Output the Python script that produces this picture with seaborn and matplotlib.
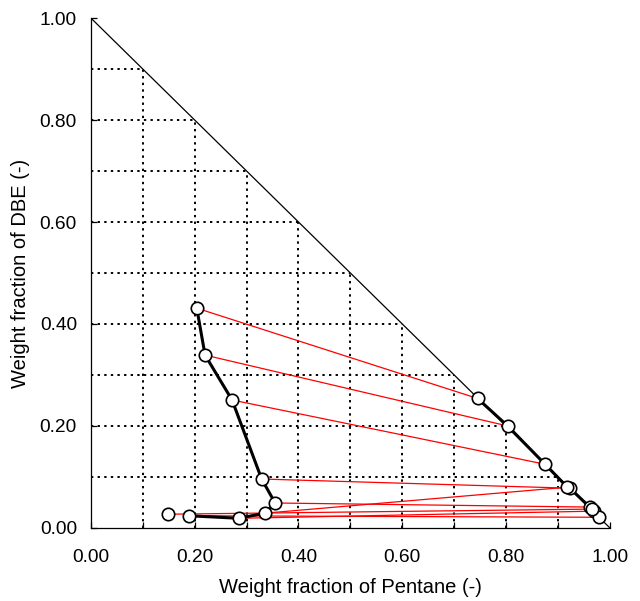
import numpy as np
import pandas as pd
import matplotlib
matplotlib.use("Agg")
import matplotlib.pyplot as plt
import seaborn as sns

# Raffinate phase (left branch)
raf_x = [0.204, 0.220, 0.272, 0.329, 0.355, 0.335, 0.285, 0.189, 0.148]
raf_y = [0.431, 0.339, 0.251, 0.096, 0.049, 0.029, 0.019, 0.024, 0.027]
# Extract phase (right branch), paired with raffinate points
ext_x = [0.745, 0.803, 0.875, 0.923, 0.961, 0.918, 0.970, 0.979, 0.965]
ext_y = [0.254, 0.200, 0.125, 0.078, 0.041, 0.080, 0.033, 0.021, 0.037]

ticks = [0.0, 0.2, 0.4, 0.6, 0.8, 1.0]
grid_vals = [0.1, 0.2, 0.3, 0.4, 0.5, 0.6, 0.7, 0.8, 0.9]

sns.set_style("ticks")
plt.rcParams['font.family'] = ['Liberation Sans', 'DejaVu Sans']
plt.rcParams['text.color'] = 'black'
plt.rcParams['axes.labelcolor'] = 'black'
plt.rcParams['xtick.color'] = 'black'
plt.rcParams['ytick.color'] = 'black'

fig = plt.figure(figsize=(6.4, 6.01), dpi=100)
ax = fig.add_axes([0.142, 0.1215, 0.811, 0.8485])

# dotted grid inside triangle
for g in grid_vals:
    ax.plot([g, g], [0, 1 - g], color='black', lw=1.4, ls=(0, (1.2, 2.2)), zorder=1)
    ax.plot([0, 1 - g], [g, g], color='black', lw=1.4, ls=(0, (1.2, 2.2)), zorder=1)

# hypotenuse
ax.plot([0, 1], [1, 0], color='black', lw=0.9, zorder=2)

# tie lines
tie = pd.DataFrame({
    'x': [v for p in zip(raf_x, ext_x) for v in p],
    'y': [v for p in zip(raf_y, ext_y) for v in p],
    'tie': [i for i in range(len(raf_x)) for _ in range(2)],
})
sns.lineplot(data=tie, x='x', y='y', units='tie', estimator=None, sort=False,
             color='red', lw=0.9, ax=ax, zorder=3)

# binodal curves
raf = pd.DataFrame({'x': raf_x[:8], 'y': raf_y[:8]})
sns.lineplot(data=raf, x='x', y='y', sort=False, estimator=None,
             color='black', lw=2.2, ax=ax, zorder=4)
ext_order = np.argsort(ext_x)
ext = pd.DataFrame({'x': np.array(ext_x)[ext_order], 'y': np.array(ext_y)[ext_order]})
sns.lineplot(data=ext, x='x', y='y', sort=False, estimator=None,
             color='black', lw=2.2, ax=ax, zorder=4)

pts = pd.DataFrame({'x': raf_x + ext_x, 'y': raf_y + ext_y})
sns.scatterplot(data=pts, x='x', y='y', s=80, color='white', edgecolor='black',
                linewidth=1.2, ax=ax, zorder=5)

ax.set_xlim(0, 1)
ax.set_ylim(0, 1)
ax.set_xticks(ticks)
ax.set_yticks(ticks)
ax.set_xticks(grid_vals, minor=True)
ax.set_xticklabels([f"{t:.2f}" for t in ticks], fontsize=13.8)
ax.set_yticklabels([f"{t:.2f}" for t in ticks], fontsize=13.8)
ax.tick_params(direction='in', length=4, width=0.9, which='major', colors='black')
ax.tick_params(axis='x', pad=15)
ax.tick_params(axis='y', pad=10)
ax.tick_params(direction='in', length=4, width=0.9, which='minor', colors='black')
for s in ['top', 'right']:
    ax.spines[s].set_visible(False)
for s in ['left', 'bottom']:
    ax.spines[s].set_linewidth(0.9)
    ax.spines[s].set_color('black')
ax.set_xlabel('Weight fraction of Pentane (-)', fontsize=14.5, labelpad=9, color='black')
ax.set_ylabel('Weight fraction of DBE (-)', fontsize=14.5, labelpad=7, color='black')

fig.savefig('out.png', dpi=100)
